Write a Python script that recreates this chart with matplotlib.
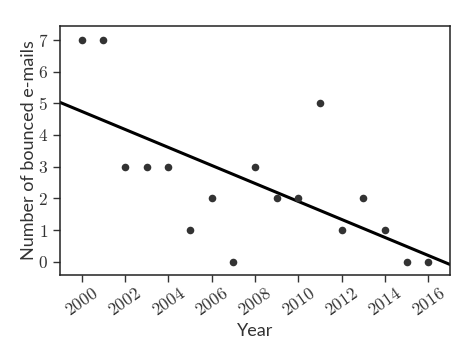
import numpy as np
import matplotlib
matplotlib.use("Agg")
import matplotlib.pyplot as plt
from matplotlib.ticker import FixedLocator, FixedFormatter

years = [2000, 2001, 2002, 2003, 2004, 2005, 2006, 2007, 2008,
         2009, 2010, 2011, 2012, 2013, 2014, 2015, 2016]
bounced = [7, 7, 3, 3, 3, 1, 2, 0, 3, 2, 2, 5, 1, 2, 1, 0, 0]
xticks = [2000, 2002, 2004, 2006, 2008, 2010, 2012, 2014, 2016]
yticks = [0, 1, 2, 3, 4, 5, 6, 7]

plt.rcParams['font.family'] = ['Lato', 'DejaVu Sans']
plt.rcParams['mathtext.fontset'] = 'cm'

fig = plt.figure(figsize=(4.76, 3.57), dpi=100)
ax = fig.add_axes([60/476, 1-275/357, 390/476, 249/357])

ax.scatter(years, bounced, s=30, color='#333333', zorder=3, linewidths=0)
slope, intercept = np.polyfit(years, bounced, 1)
xl = np.array([1999, 2017])
ax.plot(xl, slope*xl + intercept, color='black', lw=2.2, zorder=2)

ax.set_xlim(1999, 2017)
ax.set_ylim(-0.42, 7.44)
ax.xaxis.set_major_locator(FixedLocator(xticks))
ax.xaxis.set_major_formatter(FixedFormatter([f'${t}$' for t in xticks]))
ax.yaxis.set_major_locator(FixedLocator(yticks))
ax.yaxis.set_major_formatter(FixedFormatter([f'${t}$' for t in yticks]))
ax.tick_params(axis='both', direction='out', length=5, width=1, labelsize=12.5,
               colors='#333333', labelcolor='#333333')
ax.tick_params(axis='x', pad=2)
for lab in ax.get_xticklabels():
    lab.set_rotation(35)
    lab.set_ha('center')
for sp in ax.spines.values():
    sp.set_color('#222222')
    sp.set_linewidth(1.1)

ax.set_xlabel('Year', fontsize=13, color='#333333')
ax.xaxis.set_label_coords(0.5, -0.193)
ax.set_ylabel('Number of bounced e-mails', fontsize=13, color='#333333')
ax.yaxis.set_label_coords(-0.058, 0.5)

fig.savefig('out.png', dpi=100)
